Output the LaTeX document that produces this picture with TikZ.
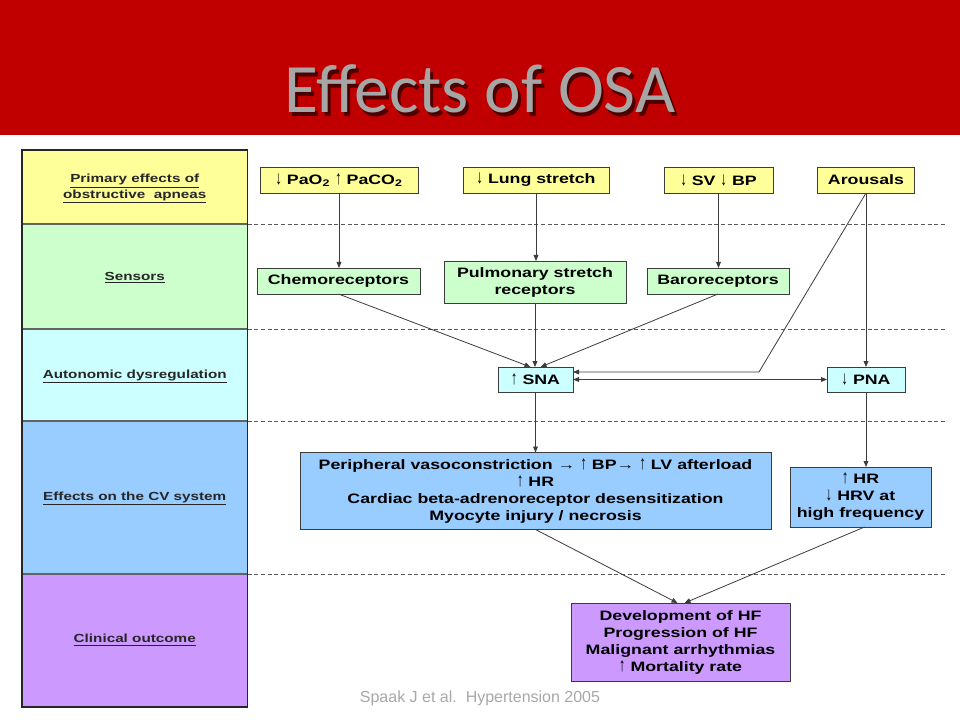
\documentclass[tikz,border=0pt]{standalone}
\usepackage{fontspec}
\setmainfont{Liberation Sans}
\newfontfamily\diagfont{Liberation Sans}[FakeStretch=1.3]
\newfontfamily\titlefont{Carlito}
\usetikzlibrary{arrows.meta,calc}
\definecolor{slidered}{HTML}{C00000}
\definecolor{titlegrey}{HTML}{A6A6A6}
\definecolor{cellyellow}{HTML}{FFFF99}
\definecolor{cellgreen}{HTML}{CCFFCC}
\definecolor{cellcyan}{HTML}{CCFFFF}
\definecolor{cellblue}{HTML}{99CCFF}
\definecolor{cellpurple}{HTML}{CC99FF}
\definecolor{lineclr}{HTML}{3C3C3C}
\definecolor{citegrey}{HTML}{A8A8A8}
% tall thin arrows used inside the box texts
\newcommand\upa{\scalebox{0.75}[1.4]{↑}}
\newcommand\dna{\scalebox{0.75}[1.4]{↓}}
\begin{document}
\begin{tikzpicture}[x=0.75pt,y=-0.75pt,
  sz/.style 2 args={minimum width={#1*0.75pt},minimum height={#2*0.75pt}},
  cell/.style={draw=lineclr!80, line width=0.8pt, inner sep=0pt, outer sep=0pt,
    align=center, text=black!85,
    font=\diagfont\bfseries\fontsize{8.8}{10.6}\selectfont},
  lbl/.style={inner sep=0pt, align=center, text=black!85,
    font=\diagfont\bfseries\fontsize{8.8}{10.6}\selectfont},
  box/.style={draw=lineclr, line width=0.7pt, inner sep=1pt, outer sep=0pt,
    align=center, text=black,
    font=\diagfont\bfseries\fontsize{10.25}{12.75}\selectfont},
  conn/.style={draw=lineclr, line width=0.6pt, -{Triangle[length=4.5pt,width=3.6pt]}},
  both/.style={draw=lineclr, line width=0.6pt,
    {Triangle[length=4.5pt,width=3.6pt]}-{Triangle[length=4.5pt,width=3.6pt]}},
  sep/.style={draw=black!65, line width=0.7pt, dash pattern=on 3pt off 2pt}
]
\useasboundingbox (0,0) rectangle (960,720);
\fill[white] (0,0) rectangle (960,720);

% title band with shadowed heading
\fill[slidered] (0,0) rectangle (960,135);
\node[anchor=base, inner sep=0pt, text=titlegrey,
  font=\titlefont\fontsize{52}{60}\selectfont] (title) at (480,113)
  {\rlap{\kern2.2pt\raisebox{-2.8pt}{\textcolor{black!60!slidered}{Effects of OSA}}}Effects of OSA};

% level column
\node[cell, fill=cellyellow, sz={225.5}{74}]  (lvA) at (134.75,187) {};
\node[cell, fill=cellgreen, sz={225.5}{105}]  (lvB) at (134.75,276.5) {};
\node[cell, fill=cellcyan, sz={225.5}{92}]    (lvC) at (134.75,375) {};
\node[cell, fill=cellblue, sz={225.5}{153}]   (lvD) at (134.75,497.5) {};
\node[cell, fill=cellpurple, sz={225.5}{133}] (lvE) at (134.75,640.5) {};
\draw[black!85, line width=1.1pt] (lvA.north west) rectangle (lvE.south east);
\node[lbl] (lbA) at (134.75,189) {\underline{Primary effects of}\\[1pt]\underline{obstructive\ \ apneas}};
\node[lbl] (lbB) at (134.75,278) {\underline{Sensors}};
\node[lbl] (lbC) at (134.75,376.5) {\underline{Autonomic dysregulation}};
\node[lbl] (lbD) at (134.75,498.5) {\underline{Effects on the CV system}};
\node[lbl] (lbE) at (134.75,640) {\underline{Clinical outcome}};

% level separators
\foreach \lv in {lvA,lvB,lvC,lvD}
  \draw[sep] (\lv.south east) -- ++(698,0);

% primary effects
\node[box, fill=cellyellow, sz={158}{26}] (pao)  at (339,180) {\dna\ PaO\textsubscript{2} \upa\ PaCO\textsubscript{2}};
\node[box, fill=cellyellow, sz={146}{26}] (lung) at (536,180) {\dna\ Lung stretch};
\node[box, fill=cellyellow, sz={109}{26}] (svbp) at (718.5,180) {\dna\ SV \dna\ BP};
\node[box, fill=cellyellow, sz={97}{26}]  (arou) at (866,180) {Arousals};

% sensors
\node[box, fill=cellgreen, sz={163}{26}] (chemo) at (338.5,281) {Chemoreceptors};
\node[box, fill=cellgreen, sz={182}{42}] (pulm)  at (535,282) {Pulmonary stretch\\receptors};
\node[box, fill=cellgreen, sz={142}{26}] (baro)  at (718,281) {Baroreceptors};

% autonomic dysregulation
\node[box, fill=cellcyan, sz={75}{25}] (sna) at (535.5,379.5) {\upa\ SNA};
\node[box, fill=cellcyan, sz={78}{25}] (pna) at (866,379.5) {\dna\ PNA};

% effects on the CV system
\node[box, fill=cellblue, sz={471}{77}] (cvs) at (535.5,491)
  {Peripheral vasoconstriction → \upa\ BP→ \upa\ LV afterload\\\upa\ HR\\Cardiac beta-adrenoreceptor desensitization\\Myocyte injury / necrosis};
\node[box, fill=cellblue, sz={141}{60}] (cvp) at (860.5,497)
  {\upa\ HR\\\dna\ HRV at\\high frequency};

% clinical outcome
\node[box, fill=cellpurple, sz={219}{78}] (outc) at (680.5,642)
  {Development of HF\\Progression of HF\\Malignant arrhythmias\\\upa\ Mortality rate};

% connectors
\draw[conn] (pao.south) -- (pao.south |- chemo.north);
\draw[conn] (lung.south) -- (lung.south |- pulm.north);
\draw[conn] (svbp.south) -- (svbp.south |- baro.north);
\draw[conn] (chemo.south) -- ($(sna.north)+(-5,0)$);
\draw[conn] (pulm.south) -- (pulm.south |- sna.north);
\draw[conn] (baro.south) -- ($(sna.north)+(5,0)$);
\coordinate (kink) at (759,372);
\draw[conn] (arou.south) -- (kink) -- (kink -| sna.east);
\draw[conn] (arou.south) -- (arou.south |- pna.north);
\draw[both] (sna.east) -- (pna.west);
\draw[conn] (sna.south) -- (sna.south |- cvs.north);
\draw[conn] (pna.south) -- (pna.south |- cvp.north);
\draw[conn] (cvs.south) -- ($(outc.north)+(-3,0)$);
\draw[conn] ($(cvp.south)+(4,0)$) -- ($(outc.north)+(4,0)$);

% reference
\node[text=citegrey, inner sep=0pt, font=\fontsize{12}{14}\selectfont] (cite) at (480,698)
  {Spaak J et al.\ \ Hypertension 2005};
\end{tikzpicture}
\end{document}
